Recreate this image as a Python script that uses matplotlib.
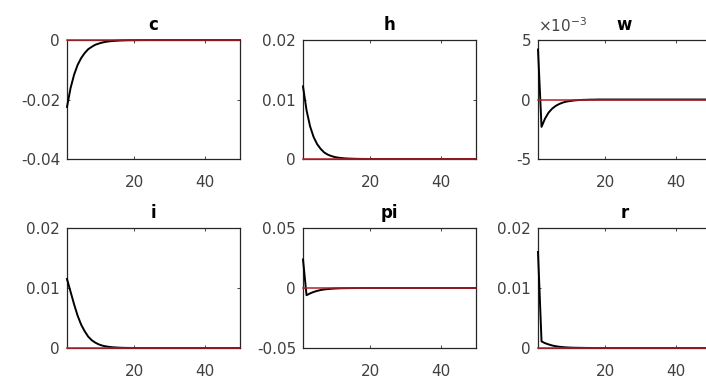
import matplotlib
matplotlib.use("Agg")
import matplotlib.pyplot as plt

plt.rcParams['font.family'] = ['DejaVu Sans']
plt.rcParams['axes.unicode_minus'] = False
plt.rcParams['mathtext.fontset'] = 'dejavusans'

periods = list(range(1, 51))

titles = ["c", "h", "w", "i", "pi", "r"]

c = [-0.0225, -0.0162, -0.0117, -0.0084, -0.0061, -0.0044, -0.0031, -0.0023, -0.0016, -0.0012,
     -0.00085, -0.00061, -0.00044, -0.00032, -0.00023, -0.00016, -0.00012, -0.00008, -0.00006, -0.00004,
     -0.00003, -0.00002, -0.00002, -0.00001, -0.00001, 0.0, 0.0, 0.0, 0.0, 0.0,
     0.0, 0.0, 0.0, 0.0, 0.0, 0.0, 0.0, 0.0, 0.0, 0.0,
     0.0, 0.0, 0.0, 0.0, 0.0, 0.0, 0.0, 0.0, 0.0, 0.0]

h = [0.0122, 0.0082, 0.0055, 0.0037, 0.0025, 0.0017, 0.0011, 0.00074, 0.0005, 0.00033,
     0.00022, 0.00015, 0.0001, 0.00007, 0.00005, 0.00003, 0.00002, 0.00001, 0.00001, 0.0,
     0.0, 0.0, 0.0, 0.0, 0.0, 0.0, 0.0, 0.0, 0.0, 0.0,
     0.0, 0.0, 0.0, 0.0, 0.0, 0.0, 0.0, 0.0, 0.0, 0.0,
     0.0, 0.0, 0.0, 0.0, 0.0, 0.0, 0.0, 0.0, 0.0, 0.0]

w = [0.0042, -0.0023, -0.0016, -0.0011, -0.00077, -0.00054, -0.00038, -0.00026, -0.00018, -0.00013,
     -0.00009, -0.00006, -0.00004, -0.00003, -0.00002, -0.00001, -0.00001, 0.0, 0.0, 0.0,
     0.0, 0.0, 0.0, 0.0, 0.0, 0.0, 0.0, 0.0, 0.0, 0.0,
     0.0, 0.0, 0.0, 0.0, 0.0, 0.0, 0.0, 0.0, 0.0, 0.0,
     0.0, 0.0, 0.0, 0.0, 0.0, 0.0, 0.0, 0.0, 0.0, 0.0]

i_ = [0.0115, 0.0094, 0.0073, 0.0054, 0.0039, 0.0028, 0.0019, 0.0013, 0.0009, 0.0006,
      0.0004, 0.00027, 0.00018, 0.00012, 0.00008, 0.00005, 0.00003, 0.00002, 0.00001, 0.0,
      0.0, 0.0, 0.0, 0.0, 0.0, 0.0, 0.0, 0.0, 0.0, 0.0,
      0.0, 0.0, 0.0, 0.0, 0.0, 0.0, 0.0, 0.0, 0.0, 0.0,
      0.0, 0.0, 0.0, 0.0, 0.0, 0.0, 0.0, 0.0, 0.0, 0.0]

pi_ = [0.0238, -0.0060, -0.0045, -0.0033, -0.0024, -0.0017, -0.0012, -0.0009, -0.0006, -0.00045,
       -0.0003, -0.0002, -0.00015, -0.0001, -0.00007, -0.00005, -0.00003, -0.00002, -0.00001, 0.0,
       0.0, 0.0, 0.0, 0.0, 0.0, 0.0, 0.0, 0.0, 0.0, 0.0,
       0.0, 0.0, 0.0, 0.0, 0.0, 0.0, 0.0, 0.0, 0.0, 0.0,
       0.0, 0.0, 0.0, 0.0, 0.0, 0.0, 0.0, 0.0, 0.0, 0.0]

r = [0.0160, 0.0011, 0.0008, 0.0006, 0.00042, 0.0003, 0.00021, 0.00015, 0.0001, 0.00007,
     0.00005, 0.00004, 0.00003, 0.00002, 0.00001, 0.00001, 0.0, 0.0, 0.0, 0.0,
     0.0, 0.0, 0.0, 0.0, 0.0, 0.0, 0.0, 0.0, 0.0, 0.0,
     0.0, 0.0, 0.0, 0.0, 0.0, 0.0, 0.0, 0.0, 0.0, 0.0,
     0.0, 0.0, 0.0, 0.0, 0.0, 0.0, 0.0, 0.0, 0.0, 0.0]

series = [c, h, w, i_, pi_, r]

yticks = [[-0.04, -0.02, 0.0], [0.0, 0.01, 0.02], [-0.005, 0.0, 0.005],
          [0.0, 0.01, 0.02], [-0.05, 0.0, 0.05], [0.0, 0.01, 0.02]]
yticklabels = [["-0.04", "-0.02", "0"], ["0", "0.01", "0.02"], ["-5", "0", "5"],
               ["0", "0.01", "0.02"], ["-0.05", "0", "0.05"], ["0", "0.01", "0.02"]]
xticks = [20, 40]
xticklabels = ["20", "40"]

W, H = 706, 379
fig = plt.figure(figsize=(W / 100, H / 100), dpi=100)

col_left = [67, 303, 538]
ax_w = 173
row_top = [40, 228]
row_bot = [159, 348]

dark = '#262626'
for k in range(6):
    row, col = divmod(k, 3)
    left = col_left[col] / W
    bottom = 1 - row_bot[row] / H
    height = (row_bot[row] - row_top[row]) / H
    ax = fig.add_axes([left, bottom, ax_w / W, height])
    ax.plot(periods, series[k], color='black', lw=1.4, zorder=3, clip_on=False)
    ax.plot([periods[0], periods[-1]], [0, 0], color='#b8202a', lw=1.1, zorder=4, clip_on=False)
    ax.set_xlim(periods[0], periods[-1])
    ax.set_ylim(yticks[k][0], yticks[k][-1])
    ax.set_xticks(xticks)
    ax.set_xticklabels(xticklabels)
    ax.set_yticks(yticks[k])
    ax.set_yticklabels(yticklabels[k])
    ax.tick_params(direction='in', length=2.5, width=0.6, colors=dark,
                   labelsize=11, labelcolor='#404040', top=True, right=True)
    ax.tick_params(axis='x', pad=11.5)
    ax.tick_params(axis='y', pad=5)
    for s in ax.spines.values():
        s.set_color(dark)
        s.set_linewidth(0.9)
        s.set_zorder(2)
    ax.set_title(titles[k], fontsize=12, fontweight='bold', pad=7, color='black')
    if titles[k] == 'w':
        ax.text(0.0, 1.04, r'$\times10^{-3}$', transform=ax.transAxes,
                fontsize=11, color='#444444', ha='left', va='bottom')

fig.savefig('out.png', dpi=100)
